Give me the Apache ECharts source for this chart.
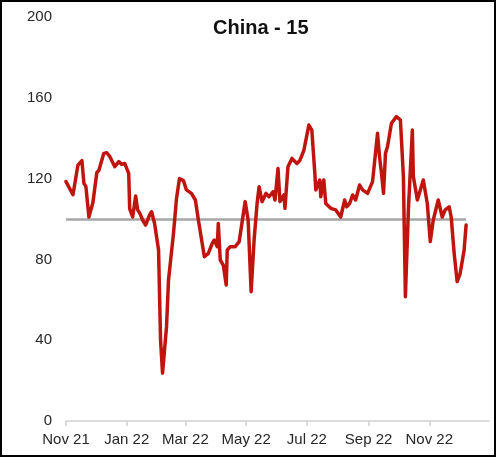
<!DOCTYPE html>
<html>
<head>
<meta charset="utf-8">
<script src="https://cdn.jsdelivr.net/npm/echarts@6/dist/echarts.min.js"></script>
<style>
  html, body { margin: 0; padding: 0; background: #fff; }
  #chart { width: 496px; height: 457px; }
  #frame { position: absolute; left: 0; top: 0; width: 496px; height: 457px;
           box-sizing: border-box; border: 2px solid #000; pointer-events: none; }
</style>
</head>
<body>
<div id="chart"></div>
<div id="frame"></div>
<script>
// readings
var dates = [
  '2021-11-01','2021-11-08','2021-11-13','2021-11-17','2021-11-19','2021-11-21','2021-11-24','2021-11-28',
  '2021-12-02','2021-12-04','2021-12-09','2021-12-12','2021-12-15','2021-12-20','2021-12-24','2021-12-27','2021-12-30',
  '2022-01-03','2022-01-04','2022-01-07','2022-01-10','2022-01-12','2022-01-14','2022-01-17','2022-01-20','2022-01-24','2022-01-26','2022-01-29',
  '2022-02-02','2022-02-04','2022-02-06','2022-02-10','2022-02-12','2022-02-17','2022-02-20','2022-02-23','2022-02-27',
  '2022-03-02','2022-03-07','2022-03-11','2022-03-14','2022-03-20','2022-03-24','2022-03-28','2022-03-30',
  '2022-04-02','2022-04-03','2022-04-05','2022-04-08','2022-04-11','2022-04-12','2022-04-15','2022-04-20','2022-04-24','2022-04-30',
  '2022-05-03','2022-05-06','2022-05-09','2022-05-12','2022-05-14','2022-05-17','2022-05-21','2022-05-24','2022-05-28','2022-05-30',
  '2022-06-02','2022-06-04','2022-06-08','2022-06-09','2022-06-12','2022-06-16','2022-06-21','2022-06-24','2022-06-28',
  '2022-07-03','2022-07-06','2022-07-09','2022-07-10','2022-07-14','2022-07-15','2022-07-18','2022-07-20','2022-07-25','2022-07-30',
  '2022-08-04','2022-08-08','2022-08-10','2022-08-13','2022-08-16','2022-08-19','2022-08-23','2022-08-26','2022-08-31',
  '2022-09-05','2022-09-10','2022-09-12','2022-09-14','2022-09-16','2022-09-18','2022-09-20','2022-09-24','2022-09-29',
  '2022-10-03','2022-10-06','2022-10-08','2022-10-11','2022-10-15','2022-10-16','2022-10-20','2022-10-23','2022-10-26','2022-10-30',
  '2022-11-02','2022-11-05','2022-11-10','2022-11-14','2022-11-17','2022-11-21','2022-11-23','2022-11-26','2022-11-29',
  '2022-12-02','2022-12-06','2022-12-08'
];
var values = [
  118.5,112,126.7,128.9,117.6,116,101,108,
  123,124,132.5,132.8,130.9,125.9,128.4,127,127.5,
  122.6,105,101,111.4,104.5,103,99.5,97,102,103.6,97.8,
  84.6,40,23.7,46.7,69.8,92.9,110,120,119,
  114.4,112.7,109.4,99.5,81.3,83,88,89.6,
  86.3,97.8,79.7,77.2,67.3,84.6,86.3,86.3,88.8,108.6,
  99.5,64,89.6,107.7,116,108.6,112.7,111,113.5,109.4,
  125,108.6,111.9,105.3,125.9,130,127.5,129,134,
  146.5,144,122.6,114.4,119.3,111,119.3,107.7,105.3,104.5,
  101,109.4,106,107.7,111.9,109.4,116.8,114.4,112.7,
  118.5,142.4,130.9,122.6,112.7,132.5,135.8,147.4,150.7,
  149,121,61.5,104.5,144,121,109.4,114.4,119.3,107.7,
  88.8,99.5,109.4,101,104.5,106,101,83,69,
  73,84.6,97
];
var refLevel = 100;
var tickDates = ['2021-11-01','2022-01-01','2022-03-01','2022-05-01','2022-07-01','2022-09-01','2022-11-01'];
var tickLabels = ['Nov 21','Jan 22','Mar 22','May 22','Jul 22','Sep 22','Nov 22'];
var axisStart = '2021-11-01', axisEnd = '2022-12-31';

function toTime(s) {
  var p = s.split('-');
  return Date.UTC(+p[0], +p[1] - 1, +p[2]);
}
var tickTimes = tickDates.map(toTime);
var seriesData = dates.map(function (d, i) { return [toTime(d), values[i]]; });

var chart = echarts.init(document.getElementById('chart'), null, { renderer: 'canvas' });
var font = '"Liberation Sans", Arial, sans-serif';

chart.setOption({
  animation: false,
  backgroundColor: '#fff',
  title: {
    text: 'China - 15',
    left: 213, top: 18, padding: 0,
    textStyle: { fontFamily: font, fontSize: 20, fontWeight: 'bold', color: '#111' }
  },
  grid: { left: 66, right: 7, top: 17, bottom: 36, containLabel: false },
  xAxis: {
    type: 'value',
    min: toTime(axisStart),
    max: toTime(axisEnd),
    axisLine: { lineStyle: { color: '#d0d0d0', width: 1.5 } },
    axisTick: { show: true, length: 5, lineStyle: { color: '#d0d0d0', width: 1.5 }, customValues: tickTimes },
    splitLine: { show: false },
    axisLabel: {
      customValues: tickTimes,
      margin: 11,
      fontFamily: font, fontSize: 15, color: '#262626',
      formatter: function (v) {
        var i = tickTimes.indexOf(v);
        return i >= 0 ? tickLabels[i] : '';
      }
    }
  },
  yAxis: {
    type: 'value',
    min: 0, max: 200, interval: 40,
    axisLine: { show: false },
    axisTick: { show: false },
    splitLine: { show: false },
    axisLabel: { margin: 14, fontFamily: font, fontSize: 15, color: '#262626' }
  },
  series: [{
    type: 'line',
    data: seriesData,
    showSymbol: false,
    smooth: false,
    z: 3,
    lineStyle: { color: '#c0140f', width: 3.5, join: 'round', cap: 'round' },
    markLine: {
      silent: true,
      symbol: 'none',
      z: 1,
      label: { show: false },
      lineStyle: { color: '#a6a6a6', width: 2.5, type: 'solid' },
      data: [[
        { coord: [toTime(dates[0]), refLevel] },
        { coord: [toTime(dates[dates.length - 1]), refLevel] }
      ]]
    }
  }]
});
</script>
</body>
</html>
